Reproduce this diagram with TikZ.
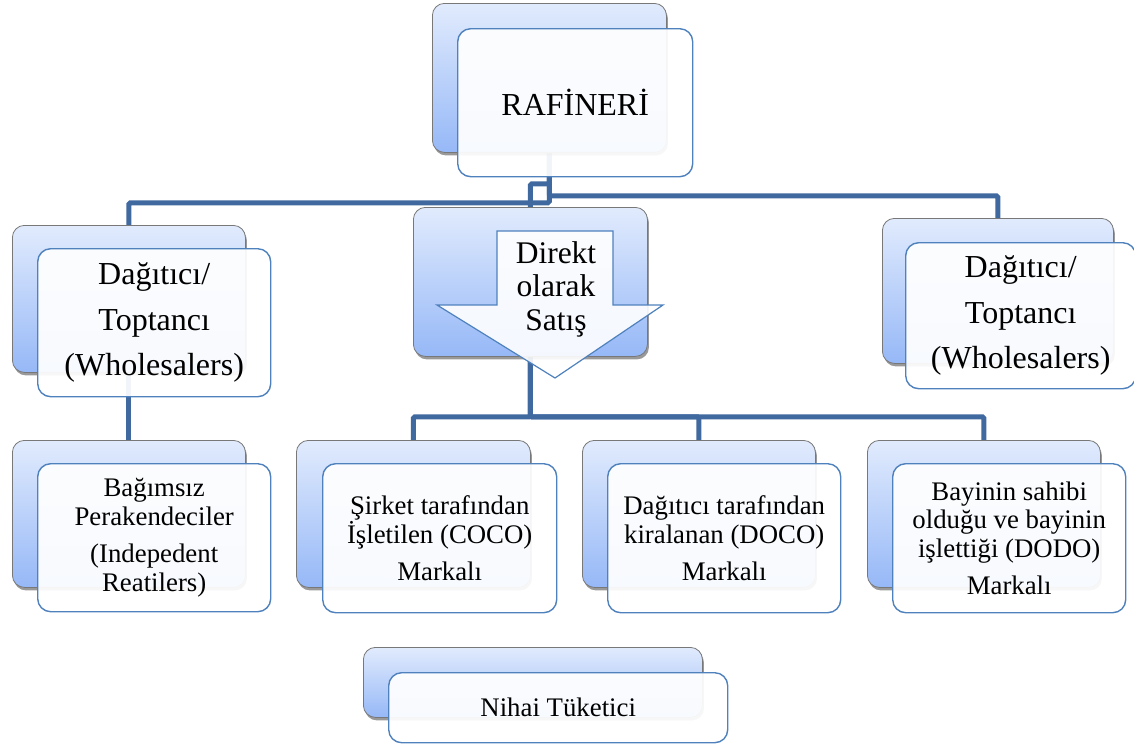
\documentclass[tikz,border=0pt]{standalone}
\usepackage{fontspec}
\setmainfont{Liberation Serif}
\usetikzlibrary{shadows}
\pgfdeclarelayer{bg}
\pgfsetlayers{bg,main}
\definecolor{linkc}{RGB}{64,105,160}
\definecolor{frontc}{RGB}{79,129,189}
\definecolor{backtop}{RGB}{225,235,253}
\definecolor{backbot}{RGB}{150,184,247}
\definecolor{backedge}{RGB}{120,120,120}
\tikzset{
 backbox/.style={rectangle, rounded corners=12pt, draw=backedge, line width=0.8pt,
   top color=backtop, bottom color=backbot,
   drop shadow={shadow xshift=1.5pt, shadow yshift=-3pt, opacity=0.4, fill=black},
   inner sep=0pt, anchor=north west},
 frontbox/.style={rectangle, rounded corners=13pt, draw=frontc, line width=1.4pt,
   fill=white, fill opacity=0.93, text opacity=1, inner sep=0pt,
   anchor=north west, align=center},
 link/.style={draw=linkc, line width=5pt, rounded corners=1.5pt},
 bigtext/.style={font=\fontsize{32}{45.5}\selectfont},
 smalltext/.style={font=\fontsize{26.8}{28.8}\selectfont},
}
\begin{document}
\begin{tikzpicture}[x=1pt,y=-1pt]
\useasboundingbox (0,0) rectangle (1134,744);
% back boxes
\node[backbox, minimum width=234pt, minimum height=149pt] (bR)  at (432,3) {};
\node[backbox, minimum width=233pt, minimum height=147pt] (bL1) at (12,225) {};
\node[backbox, minimum width=234pt, minimum height=149pt] (bC)  at (413,207) {};
\node[backbox, minimum width=231pt, minimum height=145pt] (bRt) at (882,218) {};
\node[backbox, minimum width=233pt, minimum height=147pt] (bIR) at (12,440) {};
\node[backbox, minimum width=234pt, minimum height=147pt] (bCO) at (296,440) {};
\node[backbox, minimum width=233pt, minimum height=147pt] (bDO) at (582,440) {};
\node[backbox, minimum width=233pt, minimum height=147pt] (bDD) at (867,440) {};
\node[backbox, minimum width=339pt, minimum height=70pt]  (bNT) at (363,647) {};
% connectors
\begin{pgfonlayer}{bg}
\draw[link] (bR.south) -- ++(0,50) -| (bL1.north);
\draw[link] (bR.south) -- ++(0,31) -| (bC.north);
\draw[link] (bR.south) -- ++(0,43) -| (bRt.north);
\draw[link] (bL1.south) -- (bIR.north);
\draw[link] (bC.south) -- ++(0,60) -| (bCO.north);
\draw[link] (bC.south) -- ++(0,60) -| (bDO.north);
\draw[link] (bC.south) -- ++(0,60) -| (bDD.north);
\end{pgfonlayer}
% front boxes
\node[frontbox, bigtext, minimum width=235pt, minimum height=148pt] (fR) at (457,28) {RAFİNERİ};
\node[frontbox, bigtext, minimum width=233pt, minimum height=148pt] (fL1) at (37,248) {Dağıtıcı/\\Toptancı\\(Wholesalers)};
\node[frontbox, bigtext, minimum width=230pt, minimum height=146pt] (fRt) at (905,242) {Dağıtıcı/\\Toptancı\\(Wholesalers)};
\node[frontbox, smalltext, minimum width=233pt, minimum height=148pt] (fIR) at (37,463) {Bağımsız\\Perakendeciler\\[8pt](Indepedent\\Reatilers)};
\node[frontbox, smalltext, minimum width=234pt, minimum height=149pt] (fCO) at (322,463) {Şirket tarafından\\İşletilen (COCO)\\[8pt]Markalı};
\node[frontbox, smalltext, minimum width=233pt, minimum height=149pt] (fDO) at (607,463) {Dağıtıcı tarafından\\kiralanan (DOCO)\\[8pt]Markalı};
\node[frontbox, smalltext, minimum width=233pt, minimum height=149pt] (fDD) at (892,463) {Bayinin sahibi\\olduğu ve bayinin\\işlettiği (DODO)\\[8pt]Markalı};
\node[frontbox, smalltext, minimum width=339pt, minimum height=70pt] (fNT) at (388,672) {Nihai Tüketici};
% arrow
\path[draw=frontc, line width=1.2pt, fill=white, fill opacity=0.9]
  (497,231) -- (613,231) -- (613,305) -- (663,305) -- (555,378) -- (437,305) -- (497,305) -- cycle;
\node[align=center, font=\fontsize{31.5}{33.5}\selectfont, inner sep=0pt] (direkt) at (556,289) {Direkt\\olarak\\Satış};
\end{tikzpicture}
\end{document}
